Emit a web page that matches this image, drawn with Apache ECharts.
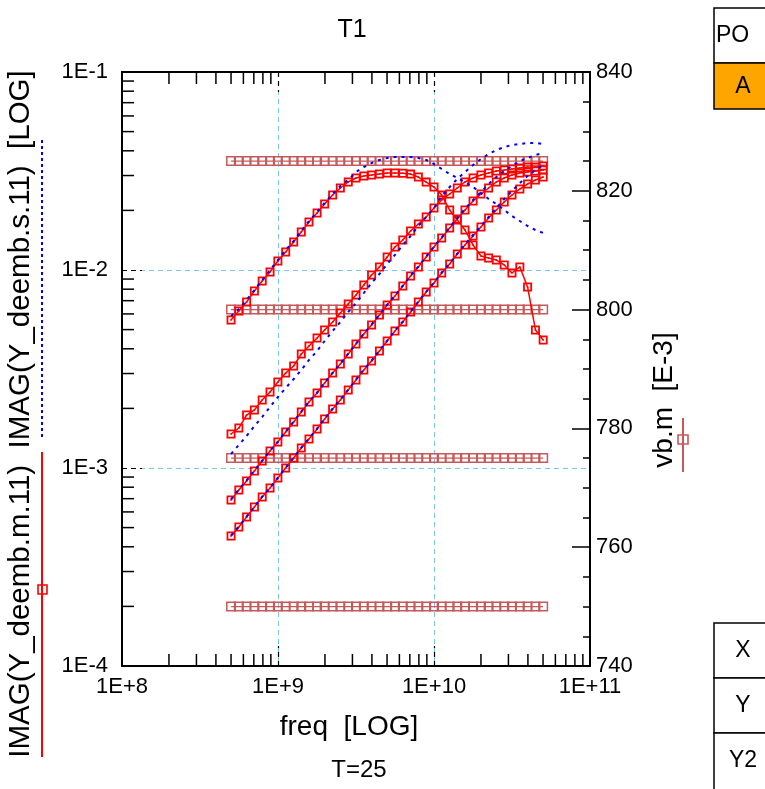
<!DOCTYPE html>
<html>
<head>
<meta charset="utf-8">
<script src="https://cdn.jsdelivr.net/npm/echarts@6/dist/echarts.min.js"></script>
<style>html,body{margin:0;padding:0;background:#fff;}#c{width:765px;height:789px;}</style>
</head>
<body>
<div id="c"></div>
<script>
// ---- data ----
const freq = [5.00e8, 5.61e8, 6.29e8, 7.06e8, 7.92e8, 8.89e8, 9.98e8, 1.12e9, 1.26e9, 1.41e9,
  1.58e9, 1.78e9, 1.99e9, 2.24e9, 2.51e9, 2.82e9, 3.16e9, 3.55e9, 3.98e9, 4.47e9,
  5.01e9, 5.62e9, 6.31e9, 7.08e9, 7.94e9, 8.91e9, 1.00e10, 1.12e10, 1.26e10, 1.41e10,
  1.58e10, 1.78e10, 2.00e10, 2.24e10, 2.51e10, 2.82e10, 3.16e10, 3.55e10, 3.98e10, 4.47e10, 5.01e10];

// IMAG(Y_deemb.m.11) measured, 4 bias points
const measA = [5.59e-3, 6.21e-3, 6.89e-3, 7.83e-3, 8.80e-3, 9.77e-3, 1.110e-2, 1.233e-2, 1.385e-2, 1.555e-2,
  1.747e-2, 1.941e-2, 2.154e-2, 2.392e-2, 2.595e-2, 2.782e-2, 2.915e-2, 2.983e-2, 3.018e-2, 3.054e-2,
  3.090e-2, 3.090e-2, 3.080e-2, 3.050e-2, 2.949e-2, 2.780e-2, 2.625e-2, 2.390e-2, 2.009e-2, 1.789e-2,
  1.592e-2, 1.338e-2, 1.177e-2, 1.150e-2, 1.123e-2, 1.060e-2, 9.66e-3, 1.036e-2, 8.21e-3, 4.98e-3, 4.43e-3];
const measB = [1.485e-3, 1.592e-3, 1.852e-3, 1.963e-3, 2.205e-3, 2.420e-3, 2.718e-3, 3.018e-3, 3.274e-3, 3.764e-3,
  4.132e-3, 4.535e-3, 4.980e-3, 5.463e-3, 6.065e-3, 6.736e-3, 7.478e-3, 8.40e-3, 9.43e-3, 1.036e-2,
  1.163e-2, 1.307e-2, 1.417e-2, 1.574e-2, 1.707e-2, 1.852e-2, 2.056e-2, 2.257e-2, 2.420e-2, 2.595e-2,
  2.782e-2, 2.915e-2, 3.018e-2, 3.090e-2, 3.162e-2, 3.199e-2, 3.236e-2, 3.274e-2, 3.312e-2, 3.312e-2, 3.351e-2];
const measC = [6.89e-4, 7.74e-4, 8.60e-4, 9.66e-4, 1.085e-3, 1.219e-3, 1.353e-3, 1.520e-3, 1.707e-3, 1.918e-3,
  2.154e-3, 2.392e-3, 2.687e-3, 3.018e-3, 3.351e-3, 3.764e-3, 4.228e-3, 4.750e-3, 5.275e-3, 5.925e-3,
  6.656e-3, 7.391e-3, 8.30e-3, 9.33e-3, 1.036e-2, 1.163e-2, 1.307e-2, 1.451e-2, 1.630e-2, 1.810e-2,
  2.009e-2, 2.231e-2, 2.420e-2, 2.595e-2, 2.782e-2, 2.915e-2, 3.018e-2, 3.090e-2, 3.126e-2, 3.162e-2, 3.199e-2];
const measD = [4.535e-4, 5.035e-4, 5.655e-4, 6.353e-4, 7.137e-4, 7.925e-4, 8.90e-4, 1.000e-3, 1.123e-3, 1.262e-3,
  1.401e-3, 1.574e-3, 1.768e-3, 1.986e-3, 2.205e-3, 2.476e-3, 2.782e-3, 3.126e-3, 3.470e-3, 3.898e-3,
  4.379e-3, 4.919e-3, 5.463e-3, 6.136e-3, 6.89e-3, 7.74e-3, 8.60e-3, 9.66e-3, 1.072e-2, 1.204e-2,
  1.338e-2, 1.485e-2, 1.649e-2, 1.831e-2, 2.009e-2, 2.205e-2, 2.392e-2, 2.565e-2, 2.718e-2, 2.848e-2, 2.949e-2];

// IMAG(Y_deemb.s.11) simulated, 4 bias points
const simA = [5.857e-3, 6.353e-3, 7.053e-3, 7.925e-3, 8.90e-3, 1.000e-2, 1.123e-2, 1.262e-2, 1.401e-2, 1.574e-2,
  1.768e-2, 1.963e-2, 2.180e-2, 2.420e-2, 2.656e-2, 2.848e-2, 3.126e-2, 3.312e-2, 3.470e-2, 3.594e-2,
  3.679e-2, 3.722e-2, 3.722e-2, 3.722e-2, 3.679e-2, 3.594e-2, 3.430e-2, 3.236e-2, 3.054e-2, 2.915e-2,
  2.782e-2, 2.625e-2, 2.448e-2, 2.283e-2, 2.154e-2, 2.009e-2, 1.874e-2, 1.768e-2, 1.668e-2, 1.592e-2, 1.538e-2];
const simB = [1.177e-3, 1.307e-3, 1.451e-3, 1.630e-3, 1.810e-3, 2.033e-3, 2.283e-3, 2.535e-3, 2.815e-3, 3.126e-3,
  3.511e-3, 3.898e-3, 4.379e-3, 4.919e-3, 5.463e-3, 6.136e-3, 6.813e-3, 7.652e-3, 8.60e-3, 9.545e-3,
  1.072e-2, 1.191e-2, 1.338e-2, 1.485e-2, 1.668e-2, 1.852e-2, 2.056e-2, 2.364e-2, 2.625e-2, 2.882e-2,
  3.126e-2, 3.390e-2, 3.636e-2, 3.854e-2, 4.037e-2, 4.180e-2, 4.279e-2, 4.329e-2, 4.379e-2, 4.379e-2, 4.329e-2];
const simC = [6.95e-4, 7.80e-4, 8.66e-4, 9.72e-4, 1.090e-3, 1.225e-3, 1.360e-3, 1.528e-3, 1.715e-3, 1.928e-3,
  2.165e-3, 2.404e-3, 2.700e-3, 3.030e-3, 3.365e-3, 3.780e-3, 4.245e-3, 4.770e-3, 5.300e-3, 5.950e-3,
  6.690e-3, 7.430e-3, 8.34e-3, 9.38e-3, 1.041e-2, 1.169e-2, 1.314e-2, 1.459e-2, 1.640e-2, 1.831e-2,
  2.033e-2, 2.257e-2, 2.476e-2, 2.718e-2, 2.949e-2, 3.162e-2, 3.351e-2, 3.552e-2, 3.679e-2, 3.809e-2, 3.898e-2];
const simD = [4.56e-4, 5.06e-4, 5.68e-4, 6.38e-4, 7.17e-4, 7.96e-4, 8.94e-4, 1.005e-3, 1.128e-3, 1.268e-3,
  1.408e-3, 1.582e-3, 1.777e-3, 1.996e-3, 2.216e-3, 2.488e-3, 2.796e-3, 3.141e-3, 3.487e-3, 3.917e-3,
  4.400e-3, 4.943e-3, 5.490e-3, 6.166e-3, 6.92e-3, 7.78e-3, 8.64e-3, 9.71e-3, 1.077e-2, 1.210e-2,
  1.345e-2, 1.503e-2, 1.668e-2, 1.852e-2, 2.056e-2, 2.283e-2, 2.506e-2, 2.750e-2, 2.983e-2, 3.199e-2, 3.390e-2];

// vb.m [E-3] (right axis), 4 bias points
const vb1 = [825,825,825,825,825,825,825,825,825,825,825,825,825,825,825,825,825,825,825,825,825,825,825,825,825,825,825,825,825,825,825,825,825,825,825,825,825,825,825,825,825];
const vb2 = [800,800,800,800,800,800,800,800,800,800,800,800,800,800,800,800,800,800,800,800,800,800,800,800,800,800,800,800,800,800,800,800,800,800,800,800,800,800,800,800,800];
const vb3 = [775,775,775,775,775,775,775,775,775,775,775,775,775,775,775,775,775,775,775,775,775,775,775,775,775,775,775,775,775,775,775,775,775,775,775,775,775,775,775,775,775];
const vb4 = [750,750,750,750,750,750,750,750,750,750,750,750,750,750,750,750,750,750,750,750,750,750,750,750,750,750,750,750,750,750,750,750,750,750,750,750,750,750,750,750,750];

const xMin = 1e8, xMax = 1e11, yMin = 1e-4, yMax = 1e-1;
const y2Min = 740, y2Max = 840, y2Step = 20;
const minorMant = [2, 3, 4, 5, 6, 7, 8, 9];
const xDecades = [1e8, 1e9, 1e10];
const yDecades = [1e-4, 1e-3, 1e-2];
const xMajorInner = [1e9, 1e10];

// ---- styles ----
const FONT = '"Liberation Sans", Arial, sans-serif';
const TICK_FS = 22;
const TITLE_FS = 29.5;
const RED = '#ff0000', BLUE = '#0000ff', VB = '#c65a5a', GRIDC = '#7cc3f0';
const markSym = 'path://M0,0H10V10H0ZM2,2V8H8V2ZM4.1,4.1H5.9V5.9H4.1Z';
const vbSym = 'path://M0,0H10V10H0ZM1.5,1.5V8.5H8.5V1.5Z';

const zip = (xs, ys) => xs.map((x, i) => [x, ys[i]]);

// kinds: 0 minor x tick, 1 minor y tick, 2 inner major x ticks, 3 top frame
const tickData = [];
xDecades.forEach(d => minorMant.forEach(m => tickData.push([m * d, 1e-3, 0])));
yDecades.forEach(d => minorMant.forEach(m => tickData.push([1e9, m * d, 1])));
xMajorInner.forEach(v => tickData.push([v, 1e-3, 2]));
tickData.push([xMin, yMax, 3]);

function measSeries(arr) {
  return { type: 'line', xAxisIndex: 0, yAxisIndex: 0, data: zip(freq, arr), z: 4,
    symbol: markSym, symbolSize: 9, showSymbol: true,
    itemStyle: { color: RED }, lineStyle: { color: RED, width: 1.5 }, emphasis: { disabled: true } };
}
function simSeries(arr) {
  return { type: 'line', xAxisIndex: 0, yAxisIndex: 0, data: zip(freq, arr), z: 5,
    showSymbol: false, symbol: 'none',
    lineStyle: { color: BLUE, width: 2, type: [3, 5] }, emphasis: { disabled: true } };
}
function vbSeries(arr) {
  return { type: 'line', xAxisIndex: 0, yAxisIndex: 1, data: zip(freq, arr), z: 2,
    symbol: vbSym, symbolSize: 10, showSymbol: true,
    itemStyle: { color: VB }, lineStyle: { color: VB, width: 1.2 }, emphasis: { disabled: true } };
}

const logX = v => '1E+' + Math.round(Math.log10(v));
const logY = v => '1E' + Math.round(Math.log10(v));

const chart = echarts.init(document.getElementById('c'), null, { renderer: 'canvas' });
chart.setOption({
  animation: false,
  backgroundColor: '#fff',
  grid: { left: 122, top: 72, width: 468, height: 594, containLabel: false, show: false },
  xAxis: [
    { type: 'log', logBase: 10, min: xMin, max: xMax, position: 'bottom',
      axisLine: { show: true, lineStyle: { color: '#000', width: 2 } },
      axisTick: { show: false },
      axisLabel: { formatter: logX, color: '#000', fontFamily: FONT, fontSize: TICK_FS, margin: 10 },
      splitLine: { show: true, lineStyle: { color: GRIDC, width: 1, type: [5, 4] } } }
  ],
  yAxis: [
    { type: 'log', logBase: 10, min: yMin, max: yMax, position: 'left',
      axisLine: { show: true, lineStyle: { color: '#000', width: 2 } },
      axisTick: { show: true, inside: true, length: 20, lineStyle: { color: '#000', width: 1, type: [5, 4] } },
      axisLabel: { formatter: logY, color: '#000', fontFamily: FONT, fontSize: TICK_FS, margin: 14 },
      splitLine: { show: true, lineStyle: { color: GRIDC, width: 1, type: [5, 4] } } },
    { type: 'value', min: y2Min, max: y2Max, interval: y2Step, position: 'right',
      axisLine: { show: true, lineStyle: { color: '#000', width: 2 } },
      axisTick: { show: true, inside: true, length: 18, lineStyle: { color: '#000', width: 1.5 } },
      minorTick: { show: true, splitNumber: 4, length: 7, lineStyle: { color: '#000', width: 1.5 } },
      axisLabel: { color: '#000', fontFamily: FONT, fontSize: TICK_FS, margin: 6 },
      splitLine: { show: false } }
  ],
  series: [
    vbSeries(vb1), vbSeries(vb2), vbSeries(vb3), vbSeries(vb4),
    measSeries(measA), measSeries(measB), measSeries(measC), measSeries(measD),
    simSeries(simA), simSeries(simB), simSeries(simC), simSeries(simD),
    { type: 'custom', xAxisIndex: 0, yAxisIndex: 0, data: tickData, z: 6, clip: false, silent: true,
      encode: { x: 0, y: 1 },
      renderItem: function (params, api) {
        const kind = api.value(2);
        const st = { stroke: '#000', lineWidth: 1.5 };
        if (kind === 0) {
          const b = api.coord([api.value(0), yMin]);
          const t = api.coord([api.value(0), yMax]);
          return { type: 'group', children: [
            { type: 'line', shape: { x1: b[0], y1: b[1], x2: b[0], y2: b[1] - 12 }, style: st },
            { type: 'line', shape: { x1: t[0], y1: t[1], x2: t[0], y2: t[1] + 12 }, style: st } ] };
        }
        if (kind === 2) {
          const b = api.coord([api.value(0), yMin]);
          const t = api.coord([api.value(0), yMax]);
          const x = Math.round(t[0]) + 0.5;
          const ds = { stroke: '#000', lineWidth: 1.2, lineDash: [5, 4] };
          return { type: 'group', children: [
            { type: 'line', shape: { x1: x, y1: t[1], x2: x, y2: t[1] + 20 }, style: ds },
            { type: 'line', shape: { x1: x, y1: b[1], x2: x, y2: b[1] - 20 }, style: ds } ] };
        }
        if (kind === 3) {
          const a = api.coord([xMin, yMax]);
          const c = api.coord([xMax, yMax]);
          return { type: 'line', shape: { x1: a[0] - 1, y1: a[1], x2: c[0] + 1, y2: c[1] }, style: { stroke: '#000', lineWidth: 2 } };
        }
        const l = api.coord([xMin, api.value(1)]);
        return { type: 'line', shape: { x1: l[0], y1: l[1], x2: l[0] + 12, y2: l[1] }, style: st };
      } }
  ],
  graphic: [
    { type: 'text', x: 352, y: 30, style: { text: 'T1', font: '25px ' + FONT, fill: '#000', align: 'center', verticalAlign: 'middle' } },
    { type: 'text', x: 349, y: 727, style: { text: 'freq  [LOG]', font: '28px ' + FONT, fill: '#000', align: 'center', verticalAlign: 'middle' } },
    { type: 'text', x: 359, y: 770, style: { text: 'T=25', font: '24px ' + FONT, fill: '#000', align: 'center', verticalAlign: 'middle' } },
    // left axis title with legend lines
    { type: 'line', shape: { x1: 42, y1: 452, x2: 42, y2: 757 }, style: { stroke: RED, lineWidth: 2 } },
    { type: 'rect', shape: { x: 38, y: 585, width: 9, height: 9 }, style: { fill: 'none', stroke: RED, lineWidth: 1.6 } },
    { type: 'line', shape: { x1: 42, y1: 140, x2: 42, y2: 440 }, style: { stroke: BLUE, lineWidth: 2, lineDash: [3, 3] } },
    { type: 'text', x: 21, y: 414, rotation: Math.PI / 2,
      style: { text: 'IMAG(Y_deemb.m.11)  IMAG(Y_deemb.s.11)  [LOG]', font: TITLE_FS + 'px ' + FONT, fill: '#000', align: 'center', verticalAlign: 'middle' } },
    // right axis title
    { type: 'line', shape: { x1: 683, y1: 418, x2: 683, y2: 472 }, style: { stroke: VB, lineWidth: 2 } },
    { type: 'rect', shape: { x: 678, y: 435, width: 10, height: 9 }, style: { fill: 'none', stroke: VB, lineWidth: 1.6 } },
    { type: 'text', x: 664, y: 400, rotation: Math.PI / 2,
      style: { text: 'vb.m  [E-3]', font: '28px ' + FONT, fill: '#000', align: 'center', verticalAlign: 'middle' } },
    // top-right table
    { type: 'rect', shape: { x: 714, y: 8, width: 60, height: 55 }, style: { fill: '#fff', stroke: '#000', lineWidth: 1.5 } },
    { type: 'rect', shape: { x: 714, y: 63, width: 60, height: 46 }, style: { fill: '#ffa500', stroke: '#000', lineWidth: 1.5 } },
    { type: 'text', x: 716, y: 36, style: { text: 'PO', font: '23px ' + FONT, fill: '#000', align: 'left', verticalAlign: 'middle' } },
    { type: 'text', x: 743, y: 87, style: { text: 'A', font: '23px ' + FONT, fill: '#000', align: 'center', verticalAlign: 'middle' } },
    // bottom-right table
    { type: 'rect', shape: { x: 714, y: 623, width: 60, height: 55 }, style: { fill: '#fff', stroke: '#000', lineWidth: 1.5 } },
    { type: 'rect', shape: { x: 714, y: 678, width: 60, height: 55 }, style: { fill: '#fff', stroke: '#000', lineWidth: 1.5 } },
    { type: 'rect', shape: { x: 714, y: 733, width: 60, height: 60 }, style: { fill: '#fff', stroke: '#000', lineWidth: 1.5 } },
    { type: 'text', x: 743, y: 651, style: { text: 'X', font: '23px ' + FONT, fill: '#000', align: 'center', verticalAlign: 'middle' } },
    { type: 'text', x: 743, y: 706, style: { text: 'Y', font: '23px ' + FONT, fill: '#000', align: 'center', verticalAlign: 'middle' } },
    { type: 'text', x: 743, y: 761, style: { text: 'Y2', font: '23px ' + FONT, fill: '#000', align: 'center', verticalAlign: 'middle' } }
  ]
});
</script>
</body>
</html>
